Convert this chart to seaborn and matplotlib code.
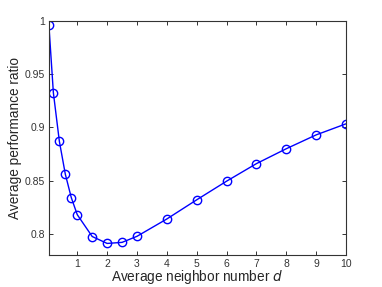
import matplotlib
matplotlib.use("Agg")
import matplotlib.pyplot as plt
import seaborn as sns
import pandas as pd

# values
neighbor_d = [0.05, 0.2, 0.4, 0.6, 0.8, 1.0, 1.5, 2.0, 2.5, 3.0, 4, 5, 6, 7, 8, 9, 10]
perf_ratio = [0.996, 0.9325, 0.887, 0.856, 0.834, 0.818, 0.7975, 0.791, 0.792, 0.7977,
              0.814, 0.832, 0.8495, 0.866, 0.880, 0.893, 0.9034]
x_ticks = [1, 2, 3, 4, 5, 6, 7, 8, 9, 10]
y_ticks = [0.8, 0.85, 0.9, 0.95, 1.0]
y_tick_labels = ["0.8", "0.85", "0.9", "0.95", "1"]

df = pd.DataFrame({"d": neighbor_d, "ratio": perf_ratio})

sns.set_style("ticks")
plt.rcParams["font.family"] = ["Liberation Sans", "DejaVu Sans"]
plt.rcParams["xtick.direction"] = "in"
plt.rcParams["ytick.direction"] = "in"

fig = plt.figure(figsize=(3.82, 2.87), dpi=100)
ax = fig.add_axes([0.128, 0.111, 0.778, 0.816])

sns.lineplot(data=df, x="d", y="ratio", ax=ax, color="#0000ff", linewidth=1.0,
             marker="o", markersize=6, markerfacecolor="none",
             markeredgecolor="#0000ff", markeredgewidth=1.0)

ax.set_xlim(neighbor_d[0], 10)
ax.set_ylim(0.78, 1.0)
ax.set_xticks(x_ticks)
ax.set_yticks(y_ticks)
ax.set_yticklabels(y_tick_labels)
ax.tick_params(labelsize=7.5, colors="#333333", length=3, width=0.7,
               top=True, right=True, pad=3)
for s in ax.spines.values():
    s.set_linewidth(0.8)
    s.set_color("#333333")

ax.set_xlabel("Average neighbor number $d$", fontsize=9.8, labelpad=-1)
ax.set_ylabel("Average performance ratio", fontsize=9.8, labelpad=2)

fig.savefig("out.png", dpi=100)
